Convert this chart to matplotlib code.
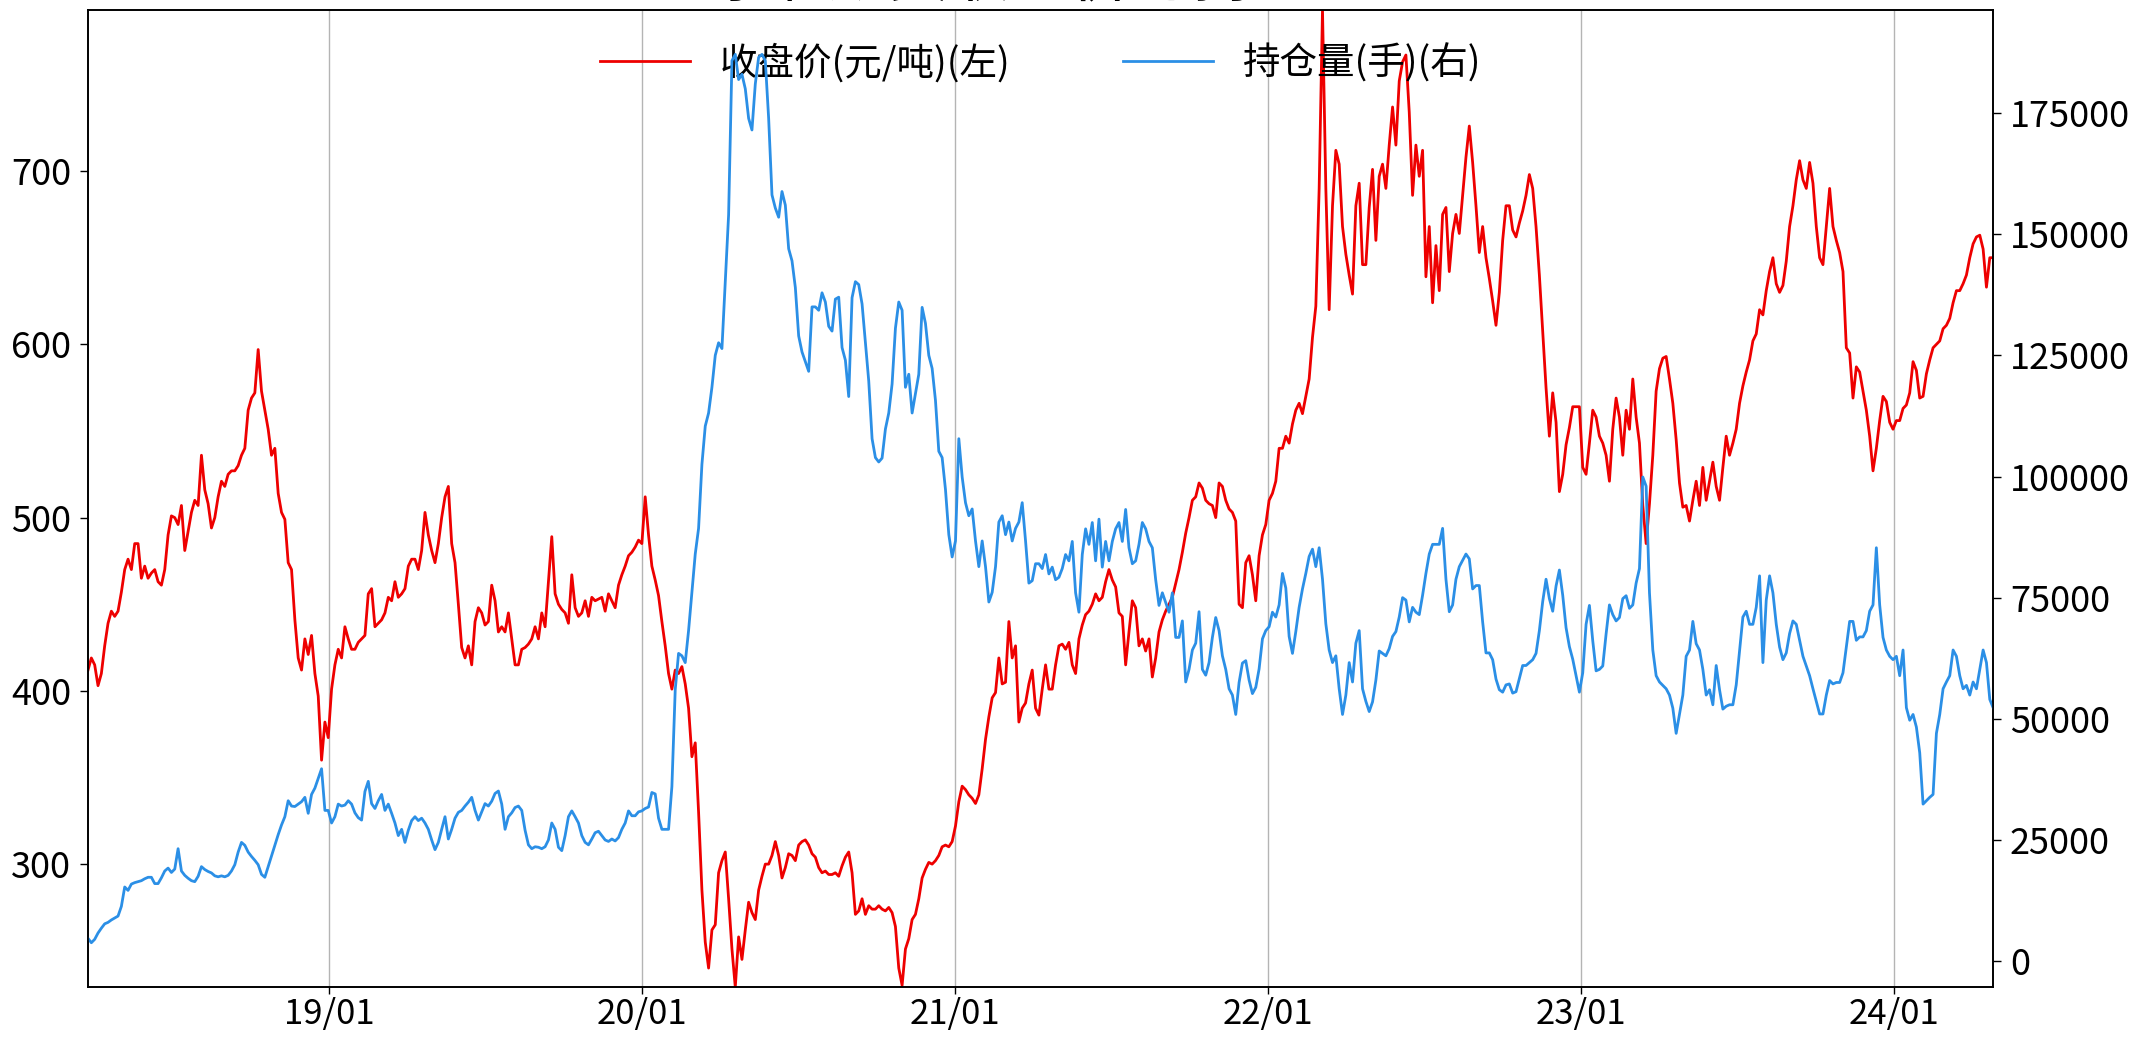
import matplotlib
matplotlib.use("Agg")
import matplotlib.pyplot as plt
import matplotlib.dates as mdates
import pandas as pd

plt.rcParams["font.family"] = ["Noto Sans CJK SC", "DejaVu Sans"]
plt.rcParams["axes.unicode_minus"] = False

TITLE = "原油期货收盘价与持仓量"
LABEL_CLOSE = "收盘价(元/吨)(左)"
LABEL_OI = "持仓量(手)(右)"
START, END = "2018-03-26", "2024-04-26"

# closing price, yuan/ton (roughly every 4 days)
close = [
    412, 419, 415, 403, 410, 426, 439, 446, 443, 446,
    457, 470, 476, 470, 485, 485, 465, 472, 465, 468,
    470, 463, 461, 470, 490, 501, 500, 496, 507, 481,
    492, 503, 510, 507, 536, 516, 508, 494, 500, 512,
    521, 518, 525, 527, 527, 530, 536, 540, 562, 569,
    572, 597, 573, 562, 551, 536, 540, 514, 503, 499,
    474, 470, 441, 419, 412, 430, 421, 432, 410, 397,
    360, 382, 373, 401, 415, 424, 419, 437, 430, 424,
    424, 428, 430, 432, 456, 459, 437, 439, 441, 445,
    454, 452, 463, 454, 456,
    459, 472, 476, 476, 470, 481, 503, 490, 481, 474,
    485, 500, 512, 518, 485, 474, 450, 425, 419, 426,
    415, 440, 448, 445, 438, 440, 461, 452, 434, 437,
    434, 445, 430, 415, 415, 424, 425, 427, 430, 437,
    430, 445, 437, 463, 489, 456, 450, 447, 445, 439,
    467, 448, 443, 445, 452, 443, 454, 452, 453, 454,
    446, 456, 452, 448, 461, 467, 472, 478, 480, 483,
    487, 485, 512, 490, 472, 464, 455, 440, 426, 410,
    401, 412, 410, 414, 404, 390, 362, 370, 330, 285,
    255, 240, 262, 265, 295, 302,
    307, 280, 251, 229, 258, 245, 262, 278, 272, 268,
    285, 293, 300, 300, 305, 313, 305, 292, 298, 306,
    305, 302, 311, 313, 314, 311, 306, 304, 298, 295,
    296, 294, 294, 295, 293, 299, 304, 307, 295, 271,
    273, 280, 271, 276, 274, 274, 276, 274, 273, 275,
    272, 264, 240, 230, 251, 257, 268, 271, 280, 292,
    297, 301, 300, 302, 305, 310, 311, 310, 313, 322,
    336, 345, 343, 340, 338, 335, 340, 355, 372, 385,
    396, 399, 419, 404, 405, 440, 419, 426, 382, 390,
    393, 404, 412, 390, 386, 401,
    415, 401, 401, 415, 426, 427, 424, 428, 415, 410,
    430, 438, 444, 446, 450, 456, 452, 454, 463, 470,
    464, 460, 445, 443, 415, 434, 452, 448, 426, 430,
    423, 430, 408, 419, 434, 441, 446, 450, 454, 462,
    470, 480, 491, 500, 510, 512, 520, 517, 510, 508,
    507, 500, 520, 518, 510, 505, 503, 498, 450, 448,
    474, 478, 467, 452, 478, 490, 496, 510, 514, 521,
    540, 540, 547, 543, 554, 562, 566, 560, 570, 580,
    604, 622, 690, 793, 690, 620, 680, 712, 704, 668,
    652, 640, 629, 680, 693, 646,
    646, 679, 701, 660, 697, 704, 690, 715, 737, 715,
    752, 763, 767, 734, 686, 715, 697, 712, 639, 668,
    624, 657, 631, 675, 679, 642, 664, 675, 664, 686,
    708, 726, 705, 680, 653, 668, 650, 638, 625, 611,
    630, 660, 680, 680, 666, 662, 670, 677, 686, 698,
    690, 668, 640, 608, 575, 547, 572, 555, 515, 525,
    542, 552, 564, 564, 564, 529, 525, 543, 562, 558,
    547, 543, 536, 521, 551, 569, 558, 536, 562, 551,
    580, 558, 543, 507, 485, 508, 536, 573, 586, 592,
    593, 580, 566, 545, 520, 506,
    507, 498, 510, 521, 507, 529, 510, 521, 532, 518,
    510, 529, 547, 536, 543, 551, 566, 576, 584, 591,
    602, 606, 620, 617, 631, 642, 650, 635, 630, 634,
    648, 668, 680, 695, 706, 695, 690, 705, 693, 668,
    650, 646, 668, 690, 668, 660, 653, 642, 598, 595,
    569, 587, 584, 573, 562, 547, 527, 540, 556, 570,
    567, 555, 551, 556, 556, 563, 565, 572, 590, 585,
    569, 570, 583, 591, 598, 600, 602, 609, 611, 615,
    624, 631, 631, 635, 640, 650, 658, 662, 663, 655,
    633, 650, 650,
]

# open interest, lots (same dates)
oi = [
    4700, 3800, 4500, 5800, 6800, 7700, 8000, 8500, 8900, 9300,
    11300, 15300, 14600, 15900, 16200, 16400, 16600, 17000, 17300, 17300,
    16000, 16000, 17200, 18600, 19200, 18300, 19000, 23200, 18600, 17700,
    17100, 16600, 16400, 17500, 19500, 18900, 18500, 18200, 17600, 17400,
    17600, 17400, 17700, 18600, 19900, 22500, 24500, 23900, 22500, 21600,
    20800, 19900, 17900, 17300, 19500, 21700, 23900, 26100, 28100, 29800,
    33100, 32000, 31900, 32400, 32900, 33800, 30500, 34400, 35700, 37700,
    39700, 31100, 31100, 28500, 29800, 32400, 32000, 32200, 33100, 32400,
    30600, 29600, 29100, 35000, 37100, 32500, 31500, 33100, 34400, 31100,
    32400, 30500, 28500, 25900, 27200,
    24500, 27000, 29000, 29800, 29000, 29500, 28500, 27200, 25000, 23000,
    24500, 27200, 29800, 25200, 27200, 29500, 30700, 31100, 32000, 32800,
    33800, 31100, 29100, 30800, 32500, 32000, 33000, 34600, 35100, 32400,
    27200, 29800, 30600, 31700, 32000, 31100, 27000, 24000, 23200, 23600,
    23500, 23200, 23600, 25000, 28500, 27200, 23500, 22800, 25900, 29800,
    31000, 29800, 28500, 25900, 24500, 24000, 25200, 26500, 26800, 25900,
    25000, 24700, 25200, 24800, 25500, 27200, 28500, 31000, 30000, 30000,
    30800, 31000, 31500, 31800, 34800, 34500, 29500, 27200, 27200, 27200,
    36000, 56000, 63500, 63000, 61600, 68200, 76100, 84000, 89300, 102500,
    110400, 113100, 118400, 125000, 127600, 126400,
    140000, 154000, 185800, 187100, 181900, 183000, 180000, 173900, 171500, 181000,
    186500, 187100, 185800, 173900, 158100, 155400, 153500, 158800, 156000, 147000,
    144500, 139000, 129000, 125700, 123700, 121700, 135000, 135000, 134300, 137900,
    136000, 131000, 130000, 136600, 137000, 126600, 124000, 116500, 136900, 140200,
    139600, 135600, 127600, 119700, 107800, 103900, 103000, 103800, 109800, 113100,
    119100, 130600, 136000, 134300, 118400, 121100, 113100, 117100, 121100, 134900,
    131600, 125000, 122300, 115700, 105200, 103900, 97300, 88000, 83400, 86700,
    107800, 99900, 94600, 91900, 93300, 86700, 81400, 86700, 81400, 74100,
    76100, 81400, 90600, 91900, 88000, 90600, 86700, 89300, 90600, 94600,
    86700, 78000, 78500, 82000, 82000, 81000,
    83900, 79900, 81300, 78700, 79200, 81000, 83900, 82600, 86600, 76000,
    72000, 83900, 89200, 86000, 90500, 82600, 91200, 81300, 86600, 82600,
    86600, 89200, 90500, 86600, 93200, 85300, 82000, 82600, 86000, 90500,
    89200, 86600, 85300, 78700, 73400, 76000, 74000, 72000, 76000, 66800,
    66800, 70200, 57600, 60200, 64200, 65600, 72100, 60200, 59000, 61600,
    66800, 70900, 68200, 63000, 60200, 56200, 54900, 50900, 57500, 61500,
    62000, 58000, 55200, 56500, 60300, 66500, 68200, 69000, 72000, 71000,
    73500, 80000, 77000, 67000, 63500, 68000, 73000, 76800, 80000, 83500,
    85000, 81400, 85300, 78800, 69600, 64200, 61600, 63000, 56200, 50900,
    54900, 61600, 57600, 65600, 68200, 56200,
    53600, 51500, 53500, 58000, 64000, 63500, 63000, 64500, 67000, 68000,
    71000, 75000, 74500, 70000, 73000, 72000, 71500, 75500, 80000, 84000,
    86000, 86000, 86000, 89300, 78800, 72100, 73500, 78800, 81400, 82700,
    84000, 83000, 76800, 77500, 77500, 70000, 63600, 63600, 62200, 58200,
    56000, 55500, 57000, 57200, 55300, 55600, 58300, 61000, 61000, 61600,
    62200, 63500, 68200, 74200, 78800, 74800, 72200, 77400, 80700, 75500,
    68800, 64900, 62300, 58900, 55500, 59500, 69500, 73400, 66100, 59900,
    60200, 60900, 67500, 73500, 71500, 70200, 70900, 74800, 75400, 72800,
    73500, 78000, 81000, 99900, 98000, 76000, 64200, 58900, 57600, 56900,
    56200, 54900, 52200, 47000, 50900, 54900,
    62900, 64200, 70100, 65500, 64200, 60200, 54900, 56000, 52900, 61000,
    56000, 52000, 52600, 52900, 52900, 57000, 64000, 71000, 72200, 69500,
    69500, 73000, 79500, 61600, 74500, 79500, 76000, 69500, 64800, 62200,
    63600, 67600, 70200, 69500, 66200, 62900, 60900, 58900, 56200, 53600,
    51000, 51000, 54900, 57900, 57200, 57500, 57500, 59500, 64800, 70100,
    70100, 66200, 66900, 66900, 68200, 72200, 73500, 85300, 73500, 66800,
    64200, 62900, 62200, 62900, 58900, 64200, 52300, 49700, 50900, 48300,
    43000, 32400, 33100, 33800, 34400, 47000, 50900, 56200, 57600, 58900,
    64200, 62900, 58900, 56200, 56900, 54900, 57600, 56200, 60200, 64200,
    61600, 54000, 52300,
]

dates = pd.date_range(START, END, periods=len(close))

fig, ax1 = plt.subplots(figsize=(21.31, 10.38), dpi=100)
fig.subplots_adjust(left=0.0413, right=0.9353, bottom=0.049, top=0.9904)
ax2 = ax1.twinx()

l1, = ax1.plot(dates, close, color="#ee0000", lw=2.0, label=LABEL_CLOSE)
l2, = ax2.plot(dates, oi, color="#2b8fe6", lw=2.0, label=LABEL_OI)

ax1.set_xlim(dates[0], dates[-1])
ax1.set_ylim(min(close), max(close))
ax1.xaxis.set_major_locator(mdates.YearLocator(month=1))
ax1.xaxis.set_major_formatter(mdates.DateFormatter("%y/%m"))
ax1.grid(axis="x", color="#b4b4b4", lw=1.0)

for ax in (ax1, ax2):
    ax.tick_params(axis="y", labelsize=26, length=6, width=1.0, pad=6)
    for sp in ax.spines.values():
        sp.set_linewidth(1.2)
ax1.tick_params(axis="x", labelsize=25, length=5, width=1.0, pad=2)

ax1.legend([l1, l2], [LABEL_CLOSE, LABEL_OI], loc="upper center", ncol=2,
           frameon=False, fontsize=27, handlelength=2.4, columnspacing=3.0)
ax1.set_title(TITLE, fontsize=44, pad=7)

fig.savefig("out.png", dpi=100)
